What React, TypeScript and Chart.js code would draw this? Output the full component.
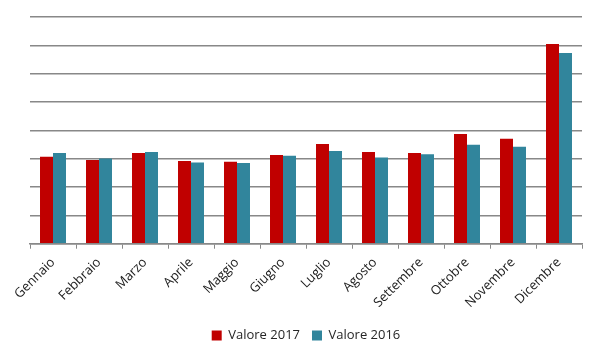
import React, { useEffect, useRef } from "react";
import { Chart, registerables } from "chart.js";

Chart.register(...registerables);

const categories = ["Gennaio", "Febbraio", "Marzo", "Aprile", "Maggio", "Giugno", "Luglio", "Agosto", "Settembre", "Ottobre", "Novembre", "Dicembre"];
const valore2017 = [3.07, 2.95, 3.2, 2.92, 2.89, 3.13, 3.52, 3.24, 3.2, 3.87, 3.7, 7.05];
const valore2016 = [3.2, 3.01, 3.24, 2.87, 2.85, 3.1, 3.27, 3.04, 3.16, 3.49, 3.42, 6.73];
const seriesNames = ["Valore 2017", "Valore 2016"];

export default function App() {
  const ref = useRef<HTMLCanvasElement | null>(null);
  useEffect(() => {
    if (!ref.current) return;
    const chart = new Chart(ref.current, {
      type: "bar",
      data: {
        labels: categories,
        datasets: [
          { label: seriesNames[0], data: valore2017, backgroundColor: "#C00000", categoryPercentage: 0.565, barPercentage: 1 },
          { label: seriesNames[1], data: valore2016, backgroundColor: "#31859C", categoryPercentage: 0.565, barPercentage: 1 },
        ],
      },
      options: {
        animation: false,
        responsive: false,
        layout: { padding: { left: 30, right: 18, top: 17, bottom: 8 } },
        plugins: {
          tooltip: { enabled: false },
          legend: {
            position: "bottom",
            labels: {
              boxWidth: 10,
              boxHeight: 10,
              padding: 12,
              color: "#262626",
              font: { family: "'Open Sans', 'Liberation Sans', sans-serif", size: 13 },
            },
          },
        },
        scales: {
          x: {
            grid: { display: true, drawOnChartArea: false, drawTicks: true, tickLength: 5, color: "#888888", offset: true },
            border: { color: "#888888", width: 1.5 },
            ticks: {
              minRotation: 45,
              maxRotation: 45,
              color: "#1a1a1a",
              padding: 6,
              font: { family: "'Open Sans', 'Liberation Sans', sans-serif", size: 13 },
            },
          },
          y: {
            min: 0,
            max: 8,
            ticks: { display: false, stepSize: 1 },
            grid: { color: "#888888", lineWidth: 1.5, drawTicks: false },
            border: { display: false },
          },
        },
      },
    });
    return () => chart.destroy();
  }, []);
  return (
    <div style={{ position: "fixed", left: 0, top: 0, width: 600, height: 360, background: "#fff" }}>
      <canvas ref={ref} width={600} height={360} />
    </div>
  );
}
